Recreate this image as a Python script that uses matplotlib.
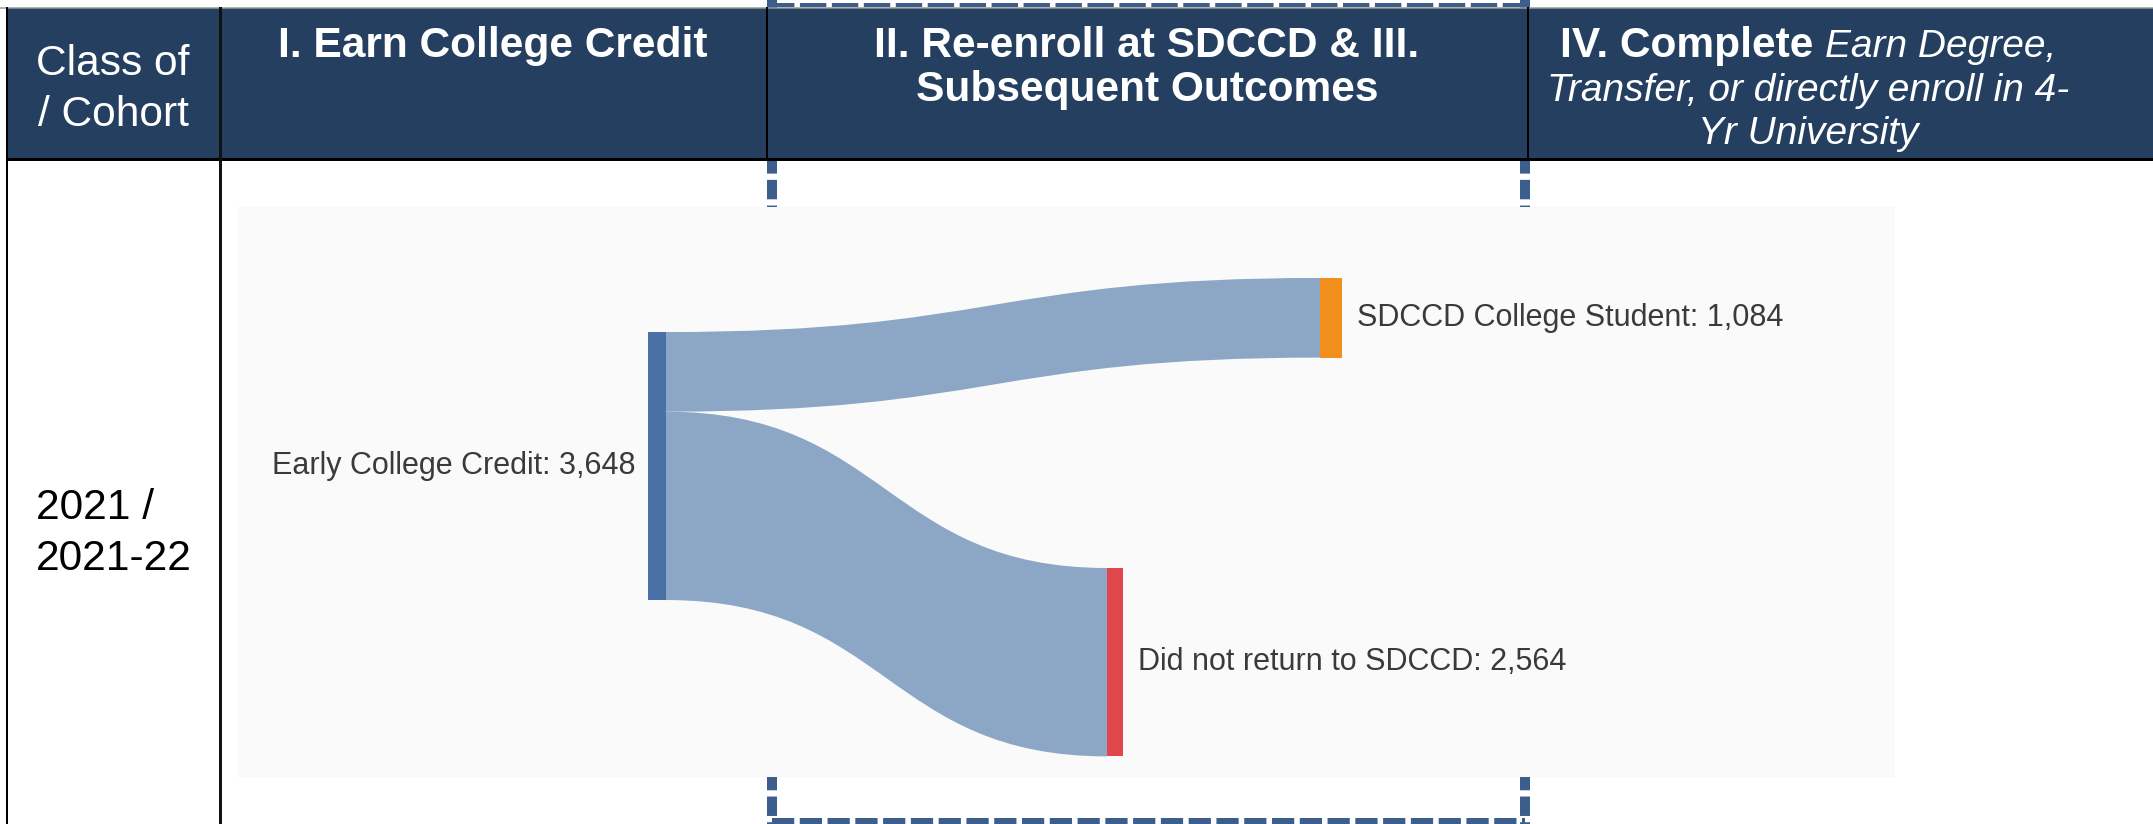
import numpy as np
import matplotlib
matplotlib.use("Agg")
import matplotlib.pyplot as plt
from matplotlib.path import Path
from matplotlib.patches import PathPatch, Rectangle

plt.rcParams['font.family'] = ['Liberation Sans', 'DejaVu Sans']
plt.rcParams['lines.scale_dashes'] = False

# --- datos de la tabla / sankey ---
header_col1 = ["Class of", "/ Cohort"]
header_col2 = ["I. Earn College Credit"]
header_col3 = ["II. Re-enroll at SDCCD & III.", "Subsequent Outcomes"]
header_col4_bold = "IV. Complete"
header_col4_italic = ["Earn Degree,", "Transfer, or directly enroll in 4-", "Yr University"]
cohort_lines = ["2021 /", "2021-22"]

source_name = "Early College Credit"
source_total = 3648
target_names = ["SDCCD College Student", "Did not return to SDCCD"]
target_values = [1084, 2564]

# --- estilo / layout (px) ---
W, H = 2153, 824
NAVY = "#243F60"
DASH = "#3B5E8C"
NODE_SRC = "#4A70A5"
LINK = "#8CA7C6"
target_colors = ["#F28E1C", "#E0474C"]
PT = 0.72  # px -> pt a 100 dpi

fig = plt.figure(figsize=(W / 100, H / 100), dpi=100)
ax = fig.add_axes([0, 0, 1, 1])
ax.set_xlim(0, W)
ax.set_ylim(H, 0)
ax.axis("off")

# recuadro discontinuo (fases II/III)
bx0, bx1 = 772, 1525
ax.plot([bx0, bx0], [0, H], color=DASH, lw=10 * PT, dashes=(14, 4.5), zorder=1)
ax.plot([bx1, bx1], [0, H], color=DASH, lw=10 * PT, dashes=(14, 4.5), zorder=1)
ax.plot([bx0 - 4, bx1 + 4], [5, 5], color=DASH, lw=4 * PT, dashes=(19, 4), zorder=1)
ax.plot([bx0, bx1], [821, 821], color=DASH, lw=6 * PT, dashes=(16, 4), zorder=1)

# panel gris del sankey
px0, px1, py0, py1 = 238, 1895, 207, 777
ax.add_patch(Rectangle((px0, py0), px1 - px0, py1 - py0, fc="#FAFAFA", ec="none", zorder=2))

# cabecera
xl = 7
ax.add_patch(Rectangle((xl, 8), W - xl, 150, fc=NAVY, ec="none", zorder=3))
ax.plot([0, W], [7.5, 7.5], color="#9a9a9a", lw=1.5 * PT, zorder=4)
ax.plot([xl, W], [158.5, 158.5], color="black", lw=3 * PT, zorder=4)
ax.plot([xl, xl], [8, H], color="black", lw=2 * PT, zorder=4)
ax.plot([219.5, 219.5], [8, H], color="#111111", lw=3 * PT, zorder=4)
for xd in [767, 1528]:
    ax.plot([xd, xd], [8, 158], color="black", lw=2 * PT, zorder=4)

FS = 30.6
FSI = 28
kw = dict(color="white", ha="center", va="baseline", fontsize=FS, zorder=5)
for i, s in enumerate(header_col1):
    ax.text(113, 75 + 51 * i, s, **kw)
for i, s in enumerate(header_col2):
    ax.text(493, 57 + 44 * i, s, fontweight="bold", **kw)
for i, s in enumerate(header_col3):
    ax.text(1147, 57 + 44 * i, s, fontweight="bold", **kw)

# columna IV: primera línea mezcla negrita + cursiva
c4 = 1808
tb = ax.text(0, 57, header_col4_bold, color="white", fontsize=FS, fontweight="bold",
             va="baseline", ha="left", zorder=5)
ti = ax.text(0, 57, header_col4_italic[0], color="white", fontsize=FSI, fontstyle="italic",
             va="baseline", ha="left", zorder=5)
r = fig.canvas.get_renderer()
wb = tb.get_window_extent(r).width
wi = ti.get_window_extent(r).width
gap = 11
x_start = c4 - (wb + gap + wi) / 2
tb.set_x(x_start)
ti.set_x(x_start + wb + gap)
for i, s in enumerate(header_col4_italic[1:]):
    ax.text(c4, 101 + 43 * i, s, color="white", ha="center", va="baseline",
            fontsize=FSI, fontstyle="italic", zorder=5)

# cohorte
for i, s in enumerate(cohort_lines):
    ax.text(36, 519 + 51 * i, s, color="black", fontsize=FS, va="baseline", ha="left", zorder=5)

# --- sankey en unidades de estudiantes ---
px_per_student = 268 / source_total
span = (py1 - py0) / px_per_student
axs = fig.add_axes([px0 / W, 1 - py1 / H, (px1 - px0) / W, (py1 - py0) / H])
axs.set_xlim(px0, px1)
axs.set_ylim(span, 0)
axs.axis("off")

src_x = (648, 666)
tgt_x = [(1320, 1342), (1107, 1123)]
src_top = 1702
tgt_top = [966, 4914]

def link(x0, y0a, y0b, x1, y1a, y1b, color):
    xm = (x0 + x1) / 2
    verts = [(x0, y0a), (xm, y0a), (xm, y1a), (x1, y1a),
             (x1, y1b), (xm, y1b), (xm, y0b), (x0, y0b), (x0, y0a)]
    codes = [Path.MOVETO, Path.CURVE4, Path.CURVE4, Path.CURVE4,
             Path.LINETO, Path.CURVE4, Path.CURVE4, Path.CURVE4, Path.CLOSEPOLY]
    axs.add_patch(PathPatch(Path(verts, codes), fc=color, ec="none", zorder=1))

y = src_top
for v, (tx0, tx1), tt in zip(target_values, tgt_x, tgt_top):
    link(src_x[1], y, y + v, tx0, tt, tt + v, LINK)
    y += v

axs.bar(src_x[0], source_total, width=src_x[1] - src_x[0], bottom=src_top,
        align="edge", color=NODE_SRC, zorder=2)
for v, (tx0, tx1), tt, col in zip(target_values, tgt_x, tgt_top, target_colors):
    axs.bar(tx0, v, width=tx1 - tx0, bottom=tt, align="edge", color=col, zorder=2)

LFS = 22
axs.text(src_x[0] - 12, src_top + source_total / 2, f"{source_name}: {source_total:,}",
         ha="right", va="center", fontsize=LFS, color="#3a3a3a")
for name, v, (tx0, tx1), tt in zip(target_names, target_values, tgt_x, tgt_top):
    axs.text(tx1 + 15, tt + v / 2, f"{name}: {v:,}", ha="left", va="center",
             fontsize=LFS, color="#3a3a3a")

fig.savefig("out.png", dpi=100)
